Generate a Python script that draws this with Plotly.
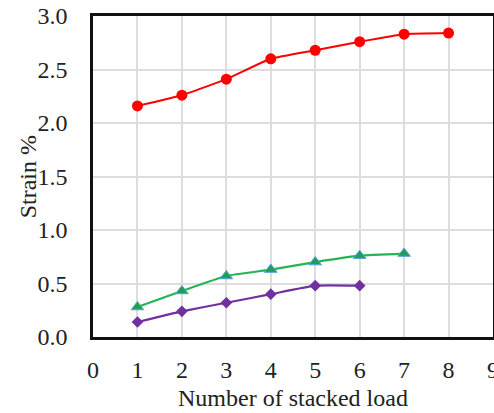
import plotly.graph_objects as go

x_red = [1, 2, 3, 4, 5, 6, 7, 8]
y_red = [2.16, 2.26, 2.41, 2.60, 2.68, 2.76, 2.83, 2.84]
x_green = [1, 2, 3, 4, 5, 6, 7]
y_green = [0.28, 0.43, 0.57, 0.63, 0.70, 0.76, 0.78]
x_purple = [1, 2, 3, 4, 5, 6]
y_purple = [0.14, 0.24, 0.32, 0.40, 0.48, 0.48]

fig = go.Figure()
fig.add_trace(go.Scatter(x=x_red, y=y_red, mode="lines+markers",
                         line=dict(color="#ff0000", width=2, shape="spline", smoothing=0.4),
                         marker=dict(symbol="circle", size=11, color="#ff0000")))
fig.add_trace(go.Scatter(x=x_green, y=y_green, mode="lines+markers",
                         line=dict(color="#22b455", width=2.2, shape="spline", smoothing=0.4),
                         marker=dict(symbol="triangle-up", size=11, color="#1f9e55",
                                     line=dict(color="#5aa0e0", width=1))))
fig.add_trace(go.Scatter(x=x_purple, y=y_purple, mode="lines+markers",
                         line=dict(color="#7030a0", width=2.2, shape="spline", smoothing=0.4),
                         marker=dict(symbol="diamond", size=9, color="#7030a0")))

font = dict(family="Liberation Serif, Times New Roman, serif", size=24, color="#222222")
fig.update_layout(
    width=494, height=413,
    margin=dict(l=93, r=1, t=16, b=76),
    paper_bgcolor="white", plot_bgcolor="white",
    showlegend=False,
    font=font,
    xaxis=dict(range=[0, 9], dtick=1, tick0=0, showgrid=True, gridcolor="#dddddd", gridwidth=1.5,
               showline=True, linecolor="#111111", linewidth=2.5, mirror=True, zeroline=False,
               ticks="outside", ticklen=9, tickcolor="rgba(0,0,0,0)", automargin=False,
               ticklabeloverflow="allow"),
    yaxis=dict(range=[0, 3.0], dtick=0.5, tick0=0, tickformat=".1f", showgrid=True,
               gridcolor="#dddddd", gridwidth=1.5,
               showline=True, linecolor="#111111", linewidth=2.5, mirror=True, zeroline=False,
               ticks="outside", ticklen=18, tickcolor="rgba(0,0,0,0)", automargin=False),
    annotations=[
        dict(text="Number of stacked load", xref="paper", yref="paper", x=0.5, y=-0.19,
             xanchor="center", yanchor="middle", showarrow=False, font=font),
        dict(text="Strain %", xref="paper", yref="paper", x=-0.163, y=0.5,
             xanchor="center", yanchor="middle", textangle=-90, showarrow=False, font=font),
    ],
)
fig.write_html("out.html", config={"displayModeBar": False},
               post_script="document.body.style.margin='0';document.body.style.overflow='hidden';")
